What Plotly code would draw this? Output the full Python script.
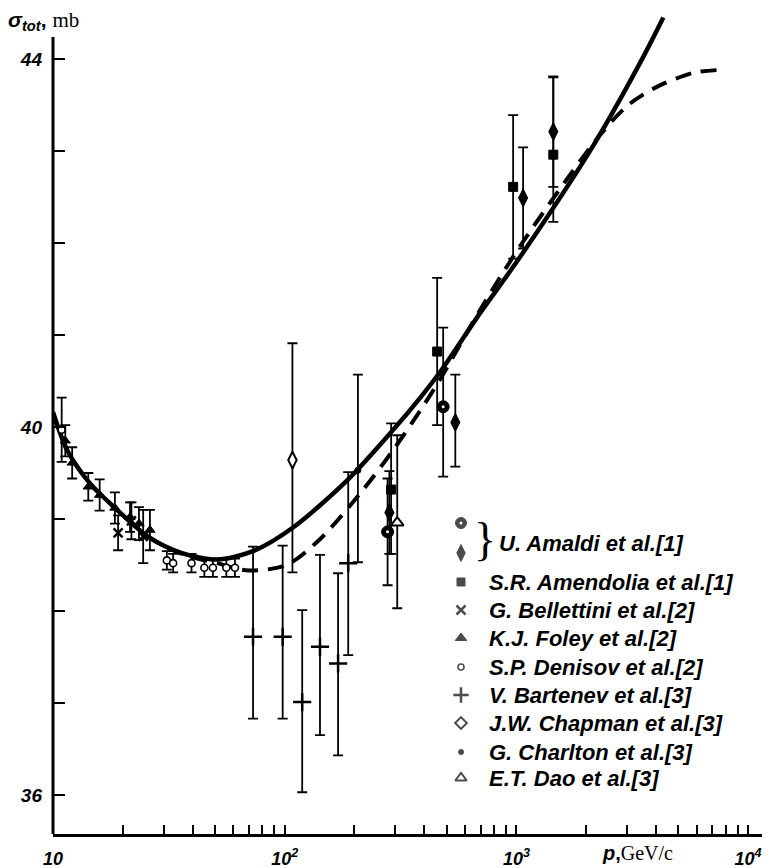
import plotly.graph_objects as go

# ---------------- data ----------------
# theoretical curves (p in GeV/c, sigma in mb)
solid_p = [10, 11.5, 14.4, 18.9, 26, 36, 51, 73, 109, 186, 294, 385, 469, 698, 1019, 2124, 3524, 4305]
solid_s = [40.16, 39.75, 39.39, 39.10, 38.80, 38.63, 38.56, 38.65, 38.91, 39.42, 39.97, 40.32, 40.60, 41.24, 41.82, 43.04, 44.02, 44.45]
dash_p = [10, 11.5, 14.4, 18.9, 26, 36, 51, 70, 102, 142, 212, 294, 385, 469, 700, 1059, 2290, 3040, 4055, 5795, 7430]
dash_s = [40.16, 39.75, 39.39, 39.10, 38.80, 38.62, 38.52, 38.44, 38.50, 38.78, 39.28, 39.75, 40.18, 40.52, 41.28, 42.00, 43.17, 43.50, 43.70, 43.85, 43.88]

# U. Amaldi et al. [1] - circles
amaldi_c_p = [278, 483]
amaldi_c_s = [38.86, 40.22]
amaldi_c_ep = [0.58, 0.86]
amaldi_c_em = [0.58, 0.76]
# U. Amaldi et al. [1] - diamonds
amaldi_d_p = [283, 545, 1069, 1443]
amaldi_d_s = [39.07, 40.05, 42.49, 43.21]
amaldi_d_ep = [0.45, 0.52, 0.55, 0.60]
amaldi_d_em = [0.45, 0.48, 0.55, 0.60]
# S.R. Amendolia et al. [1]
amend_p = [288, 455, 968, 1443]
amend_s = [39.32, 40.82, 42.61, 42.96]
amend_ep = [0.72, 0.80, 0.78, 0.84]
amend_em = [0.70, 0.80, 0.78, 0.73]
# G. Bellettini et al. [2]
bell_p = [19.1, 21.8, 24.5]
bell_s = [38.85, 38.98, 38.81]
bell_e = [0.19, 0.20, 0.29]
# K.J. Foley et al. [2]
foley_p = [11.3, 12.1, 14.2, 15.9, 18.5, 21.5, 23.5, 26.2]
foley_s = [39.85, 39.61, 39.35, 39.26, 39.12, 39.02, 38.95, 38.88]
foley_e = [0.17, 0.17, 0.15, 0.17, 0.17, 0.16, 0.18, 0.22]
# S.P. Denisov et al. [2]
denis_p = [10.9, 31, 33, 39.6, 45, 49, 56, 61]
denis_s = [39.97, 38.55, 38.52, 38.52, 38.47, 38.47, 38.47, 38.47]
denis_e = [0.35, 0.10, 0.10, 0.10, 0.10, 0.10, 0.10, 0.10]
# V. Bartenev et al. [3]
bart_p = [73, 98, 119, 142, 170, 188]
bart_s = [37.72, 37.72, 37.01, 37.61, 37.43, 38.52]
bart_ep = [0.98, 0.99, 1.00, 1.00, 0.98, 0.99]
bart_em = [0.89, 0.89, 0.98, 0.96, 1.00, 1.00]
# J.W. Chapman et al. [3]
chap_p = [108]
chap_s = [39.64]
chap_ep = [1.27]
chap_em = [1.22]
# G. Charlton et al. [3]
charl_p = [207]
charl_s = [39.53]
charl_ep = [1.04]
charl_em = [1.00]
# E.T. Dao et al. [3]
dao_p = [306]
dao_s = [38.96]
dao_ep = [0.95]
dao_em = [0.93]

x_major = [10, 100, 1000, 10000]
x_major_text = ["10", "10<sup>2</sup>", "10<sup>3</sup>", "10<sup>4</sup>"]
x_minor = [m * 10 ** d for d in (1, 2, 3) for m in range(2, 10)]
y_major = [36, 40, 44]
y_major_text = ["36", "40", "44"]
y_minor = [37, 38, 39, 41, 42, 43]

legend_labels = ["U. Amaldi et al.[1]", "S.R. Amendolia et al.[1]", "G. Bellettini et al.[2]",
                 "K.J. Foley et al.[2]", "S.P. Denisov et al.[2]", "V. Bartenev et al.[3]",
                 "J.W. Chapman et al.[3]", "G. Charlton et al.[3]", "E.T. Dao et al.[3]"]

# ---------------- layout geometry ----------------
OFF = 8                      # page body margin of the html page
W, H = 762, 860
L, R, T, B = 45, 8, 2, 34
PW, PH = W - L - R, H - T - B
X_RANGE = [1.0, 4.06]
Y_RANGE = [35.576, 35.576 + PH / 92.0]

def px(x):   # page pixel -> paper x
    return (x - OFF - L) / PW

def py(y):   # page pixel -> paper y
    return (H - B - (y - OFF)) / PH

BOLD_FONT = "Liberation Sans, Arial, sans-serif"
SERIF = "Liberation Serif, Times New Roman, serif"

fig = go.Figure()

# curves
fig.add_trace(go.Scatter(x=solid_p, y=solid_s, mode="lines",
                         line=dict(color="black", width=4.5, shape="spline", smoothing=0.8),
                         showlegend=False, hoverinfo="skip"))
fig.add_trace(go.Scatter(x=dash_p, y=dash_s, mode="lines",
                         line=dict(color="black", width=4, dash="16px,10px", shape="spline", smoothing=0.8),
                         showlegend=False, hoverinfo="skip"))

def add_series(xs, ys, ep, em, symbol, size, lw=1.5, color="black"):
    fig.add_trace(go.Scatter(
        x=xs, y=ys, mode="markers",
        marker=dict(symbol=symbol, size=size, color=color, line=dict(color="black", width=lw)),
        error_y=dict(type="data", array=ep, arrayminus=em, color="black", thickness=1.8, width=5, visible=True),
        showlegend=False))

add_series(bart_p, bart_s, bart_ep, bart_em, "cross-thin-open", 13, 2.5)
add_series(chap_p, chap_s, chap_ep, chap_em, "diamond-tall", 12, 2, "white")
add_series(charl_p, charl_s, charl_ep, charl_em, "circle", 6, 1)
add_series(dao_p, dao_s, dao_ep, dao_em, "triangle-up", 11, 2, "white")
add_series(denis_p, denis_s, denis_e, denis_e, "circle", 7, 1.6, "white")
add_series(foley_p, foley_s, foley_e, foley_e, "triangle-up", 9, 1)
add_series(bell_p, bell_s, bell_e, bell_e, "x-thin-open", 9, 2.5)
add_series(amend_p, amend_s, amend_ep, amend_em, "square", 9, 1)
add_series(amaldi_d_p, amaldi_d_s, amaldi_d_ep, amaldi_d_em, "diamond-tall", 13, 1)
add_series(amaldi_c_p, amaldi_c_s, amaldi_c_ep, amaldi_c_em, "circle", 12, 1)
# white highlight dot inside the Amaldi circles
fig.add_trace(go.Scatter(x=amaldi_c_p, y=amaldi_c_s, mode="markers",
                         marker=dict(symbol="circle", size=3, color="white", line=dict(width=0)),
                         showlegend=False, hoverinfo="skip"))

# ---------------- hand-made legend ----------------
leg_sym = ["circle", "diamond-tall", "square", "x-thin-open", "triangle-up", "circle",
           "cross-thin-open", "diamond", "circle", "triangle-up"]
leg_fill = ["black", "black", "black", "black", "black", "white", "black", "white", "black", "white"]
leg_size = [11, 12, 8, 9, 10, 6, 11, 9, 5, 10]
leg_lw = [1, 1, 1, 2.5, 1, 1.6, 2.5, 2, 1, 2]
leg_y = [523, 553, 582, 610, 638, 667, 695, 723, 752, 778]
leg_x = 461
fig.add_trace(go.Scatter(
    x=[leg_x - OFF - L] * len(leg_y), y=[v - OFF - T for v in leg_y], xaxis="x2", yaxis="y2", mode="markers",
    marker=dict(symbol=leg_sym, size=leg_size, color=leg_fill, line=dict(color="black", width=leg_lw)),
    showlegend=False, hoverinfo="skip", cliponaxis=False))
fig.add_trace(go.Scatter(
    x=[leg_x - OFF - L], y=[leg_y[0] - OFF - T], xaxis="x2", yaxis="y2", mode="markers",
    marker=dict(symbol="circle", size=3, color="white", line=dict(width=0)),
    showlegend=False, hoverinfo="skip", cliponaxis=False))

annotations = []
text_y = [543] + leg_y[2:]
text_x = [497] + [487] * 8
for lab, tx, ty in zip(legend_labels, text_x, text_y):
    annotations.append(dict(xref="paper", yref="paper", x=px(tx), y=py(ty), text="<b><i>" + lab + "</i></b>",
                            showarrow=False, xanchor="left", yanchor="middle",
                            font=dict(family=BOLD_FONT, size=22, color="black")))
annotations.append(dict(xref="paper", yref="paper", x=px(472), y=py(539), text="}", showarrow=False,
                        xanchor="left", yanchor="middle", font=dict(family=SERIF, size=46, color="black")))

# axis title texts
annotations.append(dict(xref="paper", yref="paper", x=px(6), y=py(21),
                        text="<b><i>σ</i></b><sub><b><i>tot</i></b></sub><b>,</b> <span style='font-family:Liberation Serif'>mb</span>",
                        showarrow=False, xanchor="left", yanchor="middle",
                        font=dict(family=BOLD_FONT, size=21, color="black")))
annotations.append(dict(xref="paper", yref="paper", x=px(600), y=py(853),
                        text="<b><i>p</i></b><b>,</b><span style='font-family:Liberation Serif'>GeV/c</span>",
                        showarrow=False, xanchor="left", yanchor="middle",
                        font=dict(family=BOLD_FONT, size=20, color="black")))

shapes = [
    # left axis line (stops below the top of the frame, as in the original)
    dict(type="line", xref="paper", yref="y", x0=0, x1=0, y0=Y_RANGE[0], y1=44.24,
         line=dict(color="black", width=3)),
]

fig.update_layout(
    width=W, height=H,
    margin=dict(l=L, r=R, t=T, b=B, autoexpand=False),
    paper_bgcolor="white", plot_bgcolor="white",
    showlegend=False,
    xaxis=dict(type="log", range=X_RANGE, showgrid=False, zeroline=False,
               showline=True, linecolor="black", linewidth=3,
               tickmode="array", tickvals=x_major, ticktext=x_major_text,
               ticks="inside", ticklen=9, tickwidth=1.6, tickcolor="black",
               ticklabelstandoff=6,
               minor=dict(tickmode="array", tickvals=x_minor, ticks="inside", ticklen=9,
                          tickwidth=1.6, tickcolor="black", showgrid=False),
               tickfont=dict(family=BOLD_FONT, size=18, color="black", weight="bold", style="italic")),
    yaxis=dict(range=Y_RANGE, showgrid=False, zeroline=False, showline=False,
               tickmode="array", tickvals=y_major, ticktext=y_major_text,
               ticks="inside", ticklen=12, tickwidth=1.8, tickcolor="black",
               ticklabelstandoff=10,
               minor=dict(tickmode="array", tickvals=y_minor, ticks="inside", ticklen=12,
                          tickwidth=1.8, tickcolor="black", showgrid=False),
               tickfont=dict(family=BOLD_FONT, size=19, color="black", weight="bold", style="italic")),
    xaxis2=dict(overlaying="x", range=[0, PW], visible=False, fixedrange=True),
    yaxis2=dict(overlaying="y", range=[PH, 0], visible=False, fixedrange=True),
    annotations=annotations,
    shapes=shapes,
)

fig.write_html("out.html")
